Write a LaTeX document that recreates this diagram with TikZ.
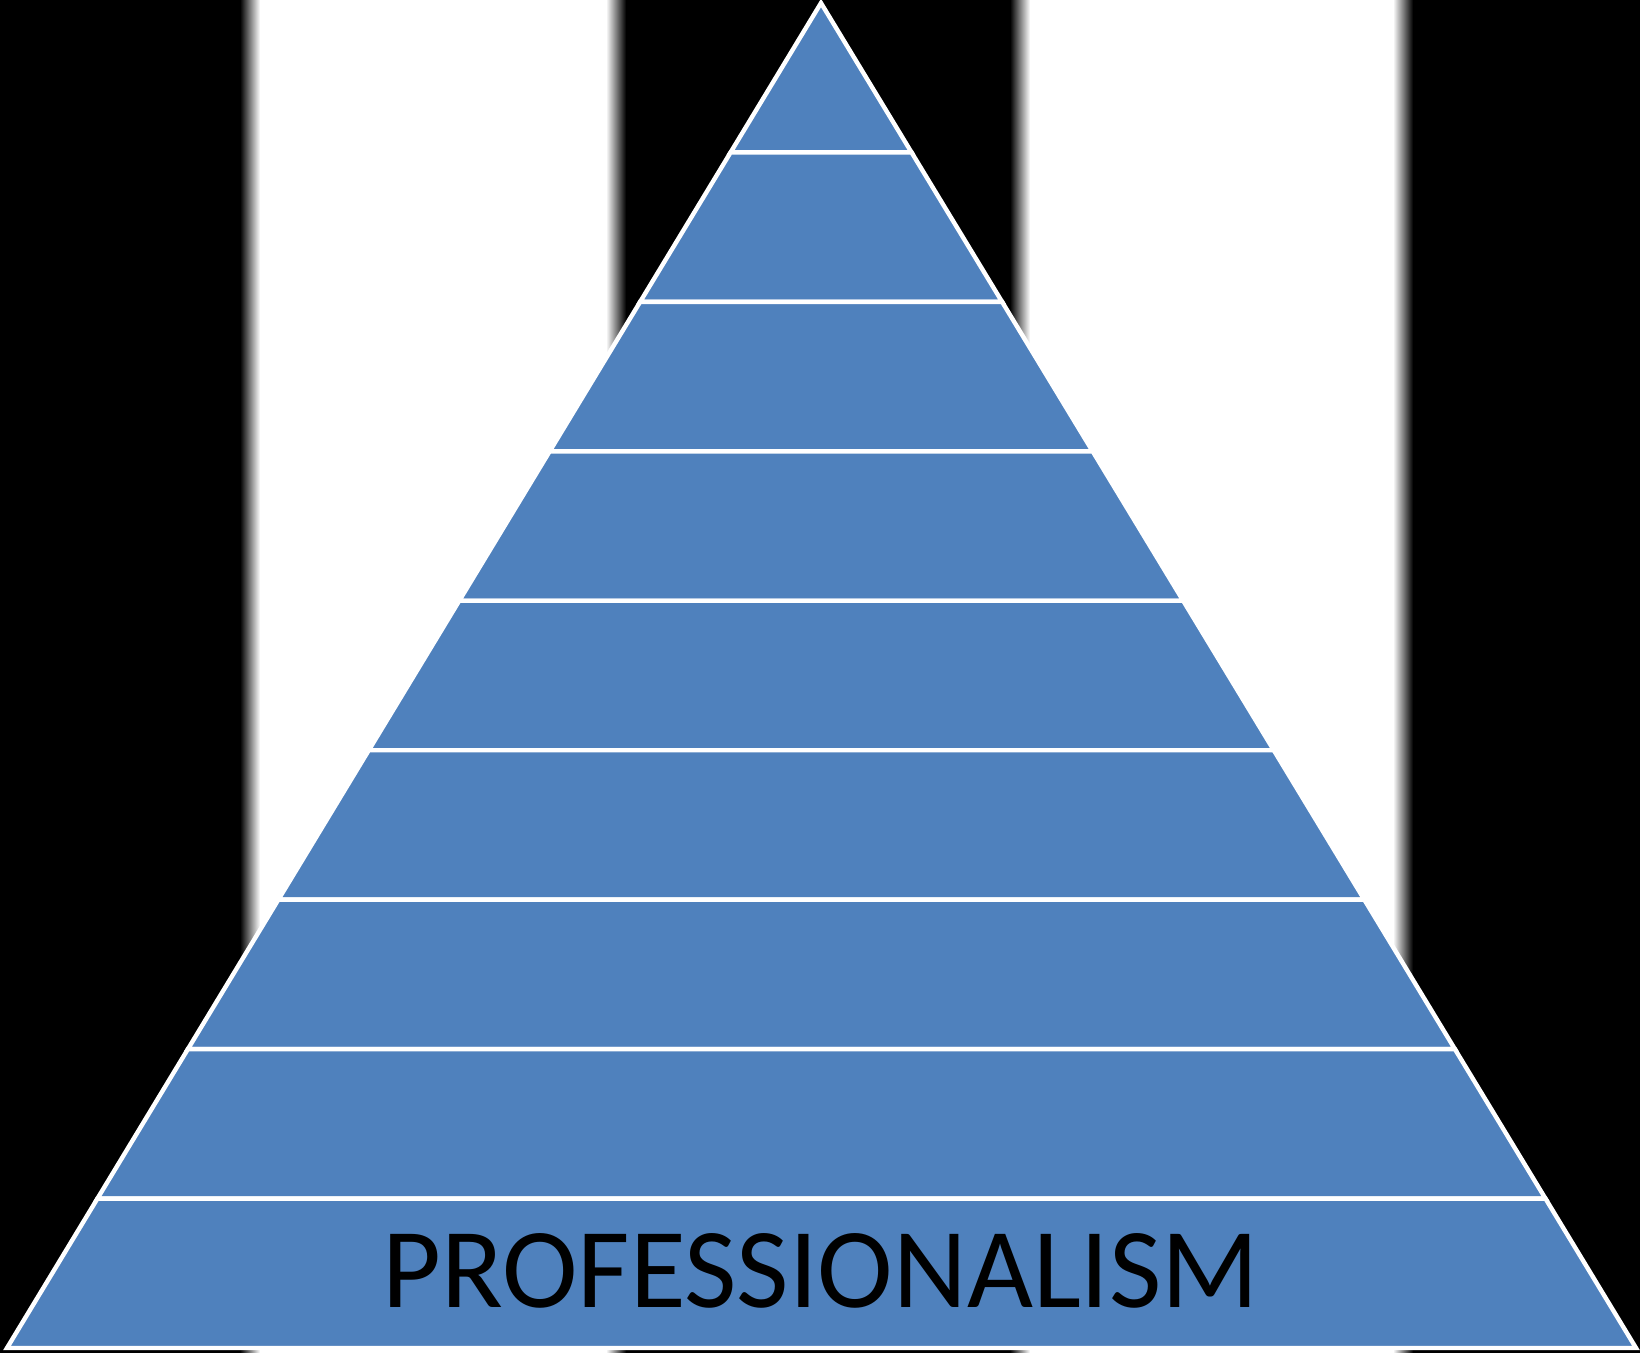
\documentclass[tikz,border=0pt]{standalone}
\usepackage{fontspec}
\newfontfamily\labelfont{Carlito}
\usetikzlibrary{calc}
\definecolor{pyrblue}{HTML}{4F81BD}
\tikzset{
  layer/.style={fill=pyrblue, draw=white, line width=2.2pt, line join=miter},
  band/.style={fill=white}
}
\begin{document}
\begin{tikzpicture}[x=0.5pt,y=-0.5pt]
            \useasboundingbox (0,0) rectangle (1640,1353);
            \fill[black] (0,0) rectangle (1640,1353);
            % white bands behind the pyramid
            \fill[band] (259,0) rectangle (607,1353);
            \shade[left color=black,right color=white] (240,0) rectangle (260,1353);
            \shade[left color=white,right color=black] (606,0) rectangle (626,1353);
            \fill[band] (1029,0) rectangle (1394,1353);
            \shade[left color=black,right color=white] (1010,0) rectangle (1030,1353);
            \shade[left color=white,right color=black] (1393,0) rectangle (1413,1353);
            % pyramid
            \coordinate (apex) at (821,3);
            \coordinate (bl) at (7,1348);
            \coordinate (br) at (1636,1348);
            \draw[layer] (apex) -- ($(apex)!1/9!(bl)$) -- ($(apex)!1/9!(br)$) -- cycle;
            \foreach \k [evaluate=\k as \a using \k/9, evaluate=\k as \b using (\k+1)/9] in {1,...,8}
              \draw[layer] ($(apex)!\a!(bl)$) -- ($(apex)!\b!(bl)$) -- ($(apex)!\b!(br)$) -- ($(apex)!\a!(br)$) -- cycle;
            \node[anchor=base, inner sep=0pt, font=\labelfont\fontsize{57}{60}\selectfont] (title) at (821,1307) {PROFESSIONALISM};
        \end{tikzpicture}
\end{document}
